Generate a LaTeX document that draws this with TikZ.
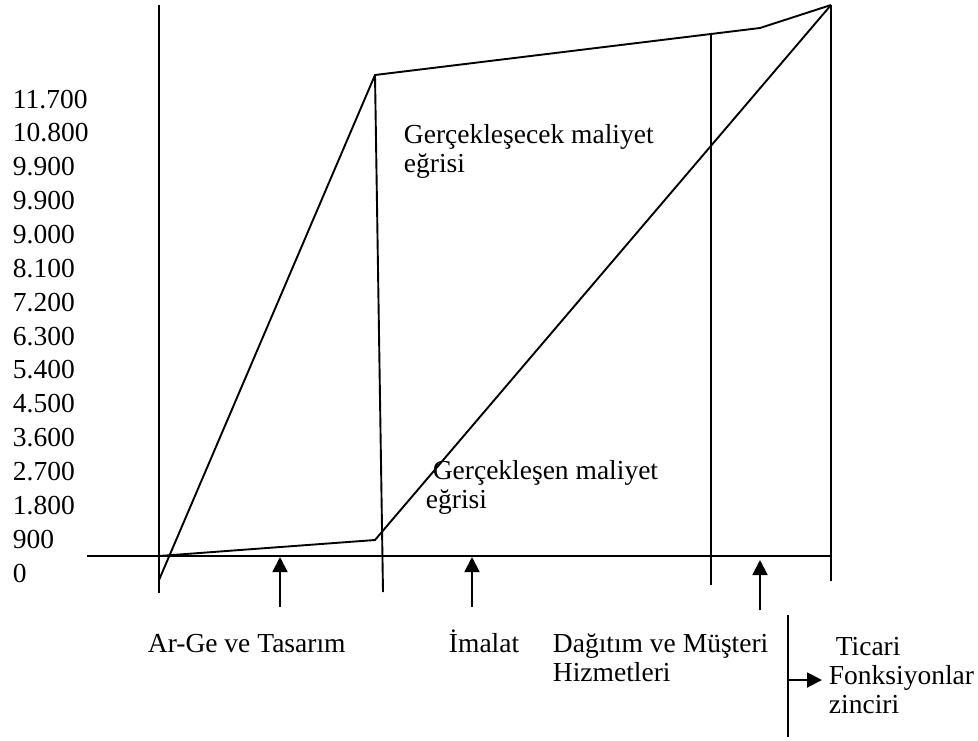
\documentclass[tikz,border=0pt]{standalone}
\usepackage{fontspec}
\setmainfont{Liberation Serif}
\usetikzlibrary{arrows.meta}
\begin{document}
\begin{tikzpicture}[x=1pt, y=-1pt, line width=1.9pt,
        lbl/.style={font=\fontsize{27.5}{29}\selectfont, inner sep=0pt, anchor=base west, align=left},
        up/.style={-{Triangle[length=15pt, width=15pt]}}]
    \useasboundingbox (0,0) rectangle (978,740);

    % axes and phase borders
    \coordinate (x0) at (87,556);
    \coordinate (x1) at (832,556);
    \coordinate (a1) at (159,5);
    \coordinate (a2) at (159,593);
    \coordinate (b1) at (375,75);
    \coordinate (b2) at (383,592);
    \coordinate (c1) at (711,33);
    \coordinate (c2) at (711,585);
    \coordinate (d1) at (831,5);
    \coordinate (d2) at (831,581);
    \draw (x0) -- (x1);
    \draw (a1) -- (a2);
    \draw (b1) -- (b2);
    \draw (c1) -- (c2);
    \draw (d1) -- (d2);

    % cost curves
    \coordinate (u0) at (159,580);
    \coordinate (u1) at (760,28);
    \coordinate (l0) at (159,556);
    \coordinate (l1) at (375,540);
    \draw (u0) -- (b1) -- (u1) -- (d1);
    \draw (l0) -- (l1) -- (d1);

    % y labels
    \foreach \v [count=\i from 0] in {11.700,10.800,9.900,9.900,9.000,8.100,7.200,6.300,5.400,4.500,3.600,2.700,1.800,900,0}
        \node[lbl, name=y\i] at (12,{108+\i*33.86}) {\v};

    % last line sits on the given baseline
    \node[lbl, name=plan] at (403,172) {Gerçekleşecek maliyet\\eğrisi};
    \node[lbl, name=real] at (425,508) {\ Gerçekleşen maliyet\\eğrisi};

    % phases
    \node[lbl, name=arge] at (147,652) {Ar-Ge ve Tasarım};
    \node[lbl, name=imal] at (448,652) {İmalat};
    \node[lbl, name=dagit] at (552,681) {Dağıtım ve Müşteri\\Hizmetleri};
    \coordinate (p1) at (280,607);
    \coordinate (p2) at (472,607);
    \coordinate (p3) at (760,610);
    \draw[up] (p1) -- (280,557);
    \draw[up] (p2) -- (472,557);
    \draw[up] (p3) -- (760,560);

    % chain
    \coordinate (e1) at (788,615);
    \coordinate (e2) at (788,737);
    \coordinate (e3) at (788,680);
    \node[lbl, name=zincir] at (828,713) {\ Ticari\\Fonksiyonlar\\zinciri};
    \draw (e1) -- (e2);
    \draw[up] (e3) -- (822,680);
\end{tikzpicture}
\end{document}
